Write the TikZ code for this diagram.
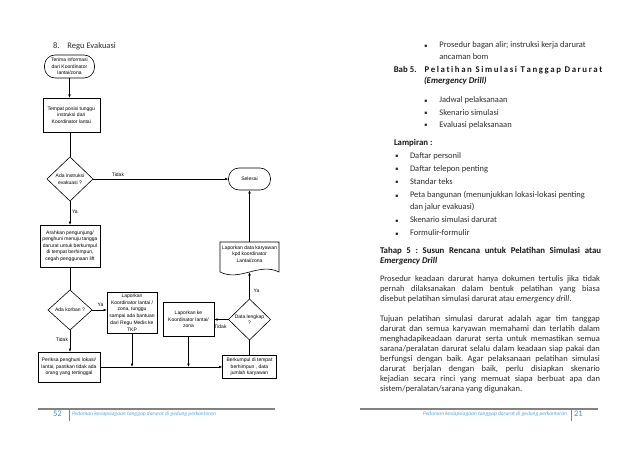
\documentclass[tikz,border=0pt]{standalone}
\usepackage{fontspec}
\setmainfont{Carlito}
\newfontfamily\flowfont{Liberation Sans}
\newfontfamily\symfont{DejaVu Sans}
\usetikzlibrary{shapes.geometric,arrows.meta,calc}
\definecolor{txt}{RGB}{45,45,45}
\definecolor{hdtxt}{RGB}{25,25,25}
\definecolor{footblue}{RGB}{90,170,215}
\definecolor{numblue}{RGB}{60,150,205}
\definecolor{rulegray}{RGB}{130,130,130}
\newcommand{\fsz}{\fontsize{5}{6.6}\selectfont}
\newcommand{\bsz}{\fontsize{8.5}{10.1}\selectfont}
\newcommand{\hsz}{\fontsize{8.8}{10.1}\selectfont}
\begin{document}
\frenchspacing
\begin{tikzpicture}[x=1pt,y=-1pt,
 every node/.style={inner sep=0pt,outer sep=0pt},
 fl/.style={font=\flowfont\fsz, align=center, draw, line width=0.6pt},
 procbox/.style={fl, rectangle},
 termbox/.style={fl, rectangle, rounded corners=10.5pt},
 decbox/.style={fl, diamond},
 conn/.style={line width=0.6pt},
 arr/.style={conn,-{Latex[length=3.5pt,width=2.6pt]}},
 lbl/.style={font=\flowfont\fsz},
 tl/.style={font=\bsz, text=txt, anchor=base west},
 hd/.style={font=\hsz\bfseries, text=hdtxt, anchor=base west},
 bul/.style={font=\symfont\fontsize{4.6}{5}\selectfont, text=txt, anchor=base},
]
\useasboundingbox[fill=white] (0,0) rectangle (638,452);

% ---------------- left page: flowchart ----------------
\node[tl, font=\fontsize{8.5}{10}\selectfont] (ttl) at (53,48.5) {8.\hspace{8pt}Regu Evakuasi};

\node[termbox, minimum width=50pt, minimum height=23pt] (start) at (69.5,66.5) {Terima informasi\\dari Koordinator\\lantai/zona};
\node[procbox, minimum width=57pt, minimum height=34pt] (box1) at (71.3,115) {Tempat posisi tunggu\\instruksi dari\\Koordinator lantai};
\node[decbox, minimum width=46pt, minimum height=44pt] (dia1) at (70,179) {Ada instruksi\\evakuasi ?};
\node[termbox, minimum width=42pt, minimum height=22pt] (sel) at (249.5,179) {Selesai};
\node[procbox, minimum width=60pt, minimum height=42pt] (arah) at (70,246) {Arahkan pengunjung/\\penghuni menuju tangga\\darurat untuk berkumpul\\di tempat berhimpun,\\cegah penggunaan lift};
\node[decbox, minimum width=44pt, minimum height=40pt] (dia2) at (70,310) {Ada korban ?};
\node[procbox, minimum width=50pt, minimum height=41pt, font=\flowfont\fontsize{5}{6.7}\selectfont] (lap1) at (132,312.5) {Laporkan\\Koordinator lantai /\\zona, tunggu\\sampai ada bantuan\\dari Regu Medis ke\\TKP};
\node[procbox, minimum width=62pt, minimum height=30pt] (periksa) at (69,367) {Periksa penghuni lokasi/\\lantai, pastikan tidak ada\\orang yang tertinggal};
\node[procbox, minimum width=51pt, minimum height=34pt] (lap2) at (188.5,319.5) {Laporkan ke\\Koordinator lantai/\\zona};
\node[decbox, minimum width=42pt, minimum height=41pt] (dia3) at (249.5,319.5) {Data lengkap\\?};
\node[fl, draw=none, minimum width=59pt, minimum height=24pt] (doc) at (249.5,254) {Laporkan data karyawan\\kpd koordinator\\Lantai/zona};
\draw[conn] (doc.north west) -- ($(doc.south west)+(0,6)$) .. controls +(20,10) and +(-20,-10) .. ($(doc.south east)+(0,6)$) -- (doc.north east) -- cycle;
\coordinate (docb) at ($(doc.south)+(0,6)$);
\node[procbox, minimum width=54pt, minimum height=23pt] (berk) at (249.5,367) {Berkumpul di tempat\\berhimpun , data\\jumlah karyawan};

% connectors
\draw[arr] (start.south) -- (start.south |- box1.north);
\draw[conn] (dia1.north |- box1.south) -- (dia1.north);
\draw[arr] (dia1.east) -- (sel.west);
\node[lbl] (l1) at (118,175) {Tidak};
\draw[arr] (dia1.south) -- (arah.north);
\node[lbl, anchor=west] (l2) at (72,212) {Ya};
\draw[conn] (arah.south) -- (dia2.north);
\draw[arr] (dia2.east) -- (dia2.east -| lap1.west);
\node[lbl] (l3) at (100.5,305) {Ya};
\draw[arr] (dia2.south) -- (dia2.south |- periksa.north);
\node[lbl] (l4) at (62,340) {Tidak};
\draw[arr] (periksa.east) -- (berk.west);
\draw[arr] (lap1.south) -- (lap1.south |- periksa.east);
\draw[arr] (lap2.south) -- (lap2.south |- periksa.east);
\draw[conn] (berk.north) -- (dia3.south);
\draw[arr] (dia3.west) -- (lap2.east);
\node[lbl] (l5) at (220.5,327) {Tidak};
\draw[arr] (dia3.north) -- (docb);
\node[lbl] (l6) at (256.5,291) {Ya};
\draw[arr] (doc.north) -- (sel.south);

% footer left
\draw[rulegray, line width=1.5pt] (38,409) -- (275,409);
\node[anchor=base west, font=\fontsize{8.5}{8.5}\selectfont, text=numblue] (pg52) at (53,416.5) {52};
\draw[rulegray, line width=0.8pt] (69,410) -- (69,421);
\node[anchor=base west, font=\itshape\fontsize{5.5}{5.5}\selectfont, text=footblue] (ft1) at (72,415.5) {Pedoman kesiapsiagaan tanggap darurat di gedung perkantoran};

% ---------------- right page: text ----------------
\node[bul] (b1) at (426,47.2) {▪};
\node[tl] (t1) at (439.4,47.7) {Prosedur bagan alir; instruksi kerja darurat};
\node[tl] (t2) at (439.4,59.5) {ancaman bom};
\node[hd] (t3) at (393.8,73) {\makebox[208.6pt][s]{\spaceskip=0.5pt plus 1fil\relax Bab\hspace{2pt}5.\hspace{8pt}P e l a t i h a n\hspace{1.5pt plus 2fil}S i m u l a s i\hspace{1.5pt plus 2fil}T a n g g a p\hspace{1.5pt plus 2fil}D a r u r a t}};
\node[hd] (t4) at (424,83.2) {\textit{(Emergency Drill)}};
\node[bul] (b2) at (426,102.3) {▪};
\node[tl] (t5) at (439.4,102.8) {Jadwal pelaksanaan};
\node[bul] (b3) at (426,114.6) {▪};
\node[tl] (t6) at (439.4,115.1) {Skenario simulasi};
\node[bul] (b4) at (426,126.9) {▪};
\node[tl] (t7) at (439.4,127.4) {Evaluasi pelaksanaan};
\node[hd] (t8) at (394,146) {Lampiran :};
\node[bul] (b5) at (397,157.9) {▪};
\node[tl] (t9) at (410,158.4) {Daftar personil};
\node[bul] (b6) at (397,170.8) {▪};
\node[tl] (t10) at (410,171.3) {Daftar telepon penting};
\node[bul] (b7) at (397,183.8) {▪};
\node[tl] (t11) at (410,184.3) {Standar teks};
\node[bul] (b8) at (397,197) {▪};
\node[tl] (t12) at (410,197.5) {Peta bangunan (menunjukkan lokasi-lokasi penting};
\node[tl] (t13) at (410,209.8) {dan jalur evakuasi)};
\node[bul] (b9) at (397,222.1) {▪};
\node[tl] (t14) at (410,222.6) {Skenario simulasi darurat};
\node[bul] (b10) at (397,235.1) {▪};
\node[tl] (t15) at (410,235.6) {Formulir-formulir};
\node[hd] (t16) at (380,253) {\makebox[221pt][s]{Tahap 5 : Susun Rencana untuk Pelatihan Simulasi atau}};
\node[hd] (t17) at (380,263.7) {\textit{Emergency Drill}};

\node[tl] (p1) at (380,281.3) {\makebox[220pt][s]{Prosedur keadaan darurat hanya dokumen tertulis jika tidak}};
\node[tl] (p2) at (380,291.4) {\makebox[220pt][s]{pernah dilaksanakan dalam bentuk pelatihan yang biasa}};
\node[tl] (p3) at (380,301.5) {disebut pelatihan simulasi darurat atau \textit{emergency drill}.};
\node[tl] (p4) at (380,321.1) {\makebox[220pt][s]{Tujuan pelatihan simulasi darurat adalah agar tim tanggap}};
\node[tl] (p5) at (380,331.2) {\makebox[220pt][s]{darurat dan semua karyawan memahami dan terlatih dalam}};
\node[tl] (p6) at (380,341.3) {\makebox[220pt][s]{menghadapikeadaan darurat serta untuk memastikan semua}};
\node[tl] (p7) at (380,351.4) {\makebox[220pt][s]{sarana/peralatan darurat selalu dalam keadaan siap pakai dan}};
\node[tl] (p8) at (380,361.5) {\makebox[220pt][s]{berfungsi dengan baik. Agar pelaksanaan pelatihan simulasi}};
\node[tl] (p9) at (380,371.6) {\makebox[220pt][s]{darurat berjalan dengan baik, perlu disiapkan skenario}};
\node[tl] (p10) at (380,381.7) {\makebox[220pt][s]{kejadian secara rinci yang memuat siapa berbuat apa dan}};
\node[tl] (p11) at (380,391.8) {sistem/peralatan/sarana yang digunakan.};

% footer right
\draw[rulegray, line width=1.5pt] (360,409) -- (598,409);
\node[anchor=base east, font=\itshape\fontsize{5.5}{5.5}\selectfont, text=footblue] (ft2) at (567,415.5) {Pedoman kesiapsiagaan tanggap darurat di gedung perkantoran};
\draw[rulegray, line width=0.8pt] (571,410) -- (571,421);
\node[anchor=base west, font=\fontsize{8.5}{8.5}\selectfont, text=numblue] (pg21) at (574,416.5) {21};
\end{tikzpicture}
\end{document}
